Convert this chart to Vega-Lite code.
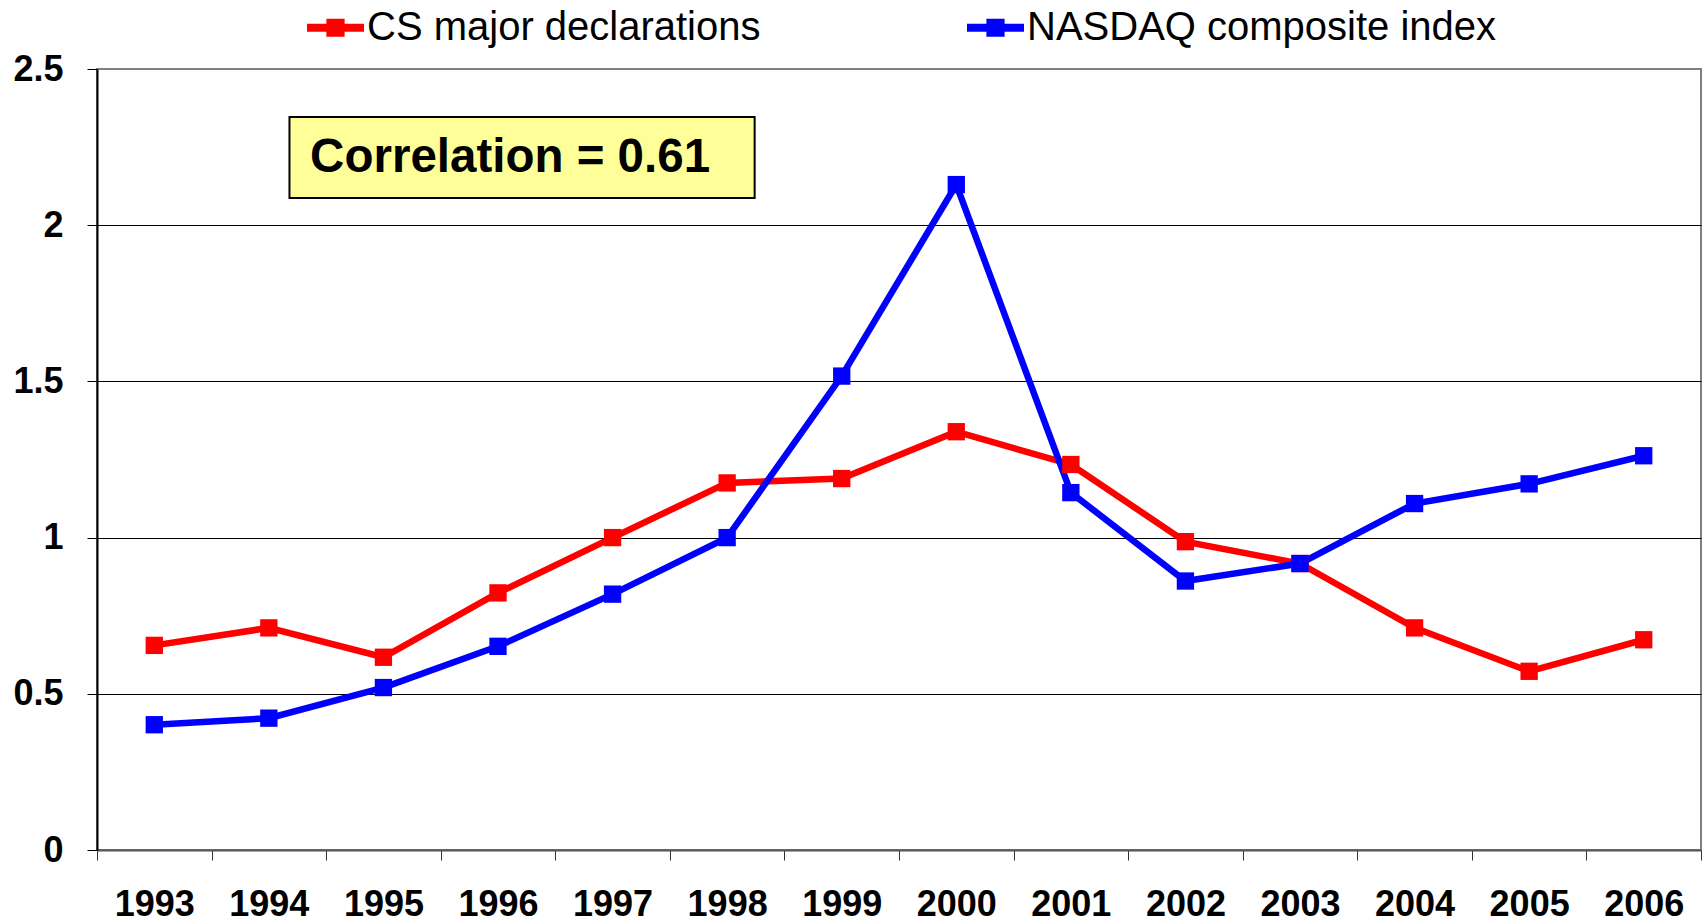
{
  "$schema": "https://vega.github.io/schema/vega-lite/v6.json",
  "width": 1604,
  "height": 781,
  "autosize": {"type": "none"},
  "padding": {"left": 97, "top": 69, "right": 5, "bottom": 70},
  "background": "white",
  "config": {
    "font": "Liberation Sans",
    "view": {"stroke": "#808080", "strokeWidth": 2}
  },
  "resolve": {"scale": {"x": "independent"}},
  "layer": [
    {
      "data": {
        "values": [
          {"year": "1993", "series": "CS major declarations", "value": 0.655},
          {"year": "1994", "series": "CS major declarations", "value": 0.711},
          {"year": "1995", "series": "CS major declarations", "value": 0.617},
          {"year": "1996", "series": "CS major declarations", "value": 0.823},
          {"year": "1997", "series": "CS major declarations", "value": 1.0},
          {"year": "1998", "series": "CS major declarations", "value": 1.175},
          {"year": "1999", "series": "CS major declarations", "value": 1.189},
          {"year": "2000", "series": "CS major declarations", "value": 1.339},
          {"year": "2001", "series": "CS major declarations", "value": 1.234},
          {"year": "2002", "series": "CS major declarations", "value": 0.987},
          {"year": "2003", "series": "CS major declarations", "value": 0.917},
          {"year": "2004", "series": "CS major declarations", "value": 0.711},
          {"year": "2005", "series": "CS major declarations", "value": 0.572},
          {"year": "2006", "series": "CS major declarations", "value": 0.673},
          {"year": "1993", "series": "NASDAQ composite index", "value": 0.401},
          {"year": "1994", "series": "NASDAQ composite index", "value": 0.422},
          {"year": "1995", "series": "NASDAQ composite index", "value": 0.52},
          {"year": "1996", "series": "NASDAQ composite index", "value": 0.652},
          {"year": "1997", "series": "NASDAQ composite index", "value": 0.819},
          {"year": "1998", "series": "NASDAQ composite index", "value": 1.0},
          {"year": "1999", "series": "NASDAQ composite index", "value": 1.517},
          {"year": "2000", "series": "NASDAQ composite index", "value": 2.13},
          {"year": "2001", "series": "NASDAQ composite index", "value": 1.144},
          {"year": "2002", "series": "NASDAQ composite index", "value": 0.861},
          {"year": "2003", "series": "NASDAQ composite index", "value": 0.917},
          {"year": "2004", "series": "NASDAQ composite index", "value": 1.109},
          {"year": "2005", "series": "NASDAQ composite index", "value": 1.172},
          {"year": "2006", "series": "NASDAQ composite index", "value": 1.262}
        ]
      },
      "encoding": {
        "x": {
          "field": "year",
          "type": "ordinal",
          "scale": {"type": "band", "paddingInner": 0, "paddingOuter": 0},
          "axis": {
            "title": null,
            "labelAngle": 0,
            "labelFontSize": 36,
            "labelFontWeight": "bold",
            "labelColor": "black",
            "labelPadding": 27,
            "tickSize": 10,
            "tickColor": "#333333",
            "tickBand": "extent",
            "domainColor": "#555555",
            "domainWidth": 2,
            "grid": false
          }
        },
        "y": {
          "field": "value",
          "type": "quantitative",
          "scale": {"domain": [0, 2.5], "nice": false},
          "axis": {
            "title": null,
            "values": [0, 0.5, 1, 1.5, 2, 2.5],
            "format": "~g",
            "labelFontSize": 36,
            "labelFontWeight": "bold",
            "labelColor": "black",
            "labelPadding": 24,
            "tickSize": 10,
            "tickColor": "black",
            "domainColor": "black",
            "domainWidth": 2,
            "grid": true,
            "gridColor": {"condition": {"test": "datum.value == 0 || datum.value == 2.5", "value": "transparent"}, "value": "black"},
            "gridWidth": 1,
            "gridOpacity": 1
          }
        },
        "color": {
          "field": "series",
          "type": "nominal",
          "scale": {"domain": ["CS major declarations", "NASDAQ composite index"], "range": ["#FF0000", "#0000FF"]},
          "legend": {
            "title": null,
            "orient": "none",
            "legendX": 210,
            "legendY": -70,
            "direction": "horizontal",
            "columns": 2,
            "columnPadding": 206,
            "padding": 0,
            "labelFontSize": 40,
            "labelColor": "black",
            "labelOffset": 3,
            "labelLimit": 800,
            "symbolSize": 3249,
            "symbolType": "M-1,-0.14L1,-0.14L1,0.14L-1,0.14Z M-0.32,-0.32L0.32,-0.32L0.32,0.32L-0.32,0.32Z",
            "encode": {
              "symbols": {
                "update": {
                  "fill": {"scale": "color", "field": "value"},
                  "stroke": {"value": "transparent"},
                  "strokeWidth": {"value": 0},
                  "opacity": {"value": 1}
                }
              }
            }
          }
        }
      },
      "layer": [
        {"mark": {"type": "line", "strokeWidth": 6.5}},
        {"mark": {"type": "point", "shape": "square", "filled": true, "size": 300, "opacity": 1}}
      ]
    },
    {
      "data": {"values": [{"label": "Correlation = 0.61"}]},
      "layer": [
        {
          "mark": {"type": "rect", "fill": "#FFFF99", "stroke": "black", "strokeWidth": 2},
          "encoding": {
            "x": {"datum": 1994.18, "type": "quantitative", "scale": {"domain": [1992.5, 2006.5], "nice": false, "zero": false}, "axis": null},
            "x2": {"datum": 1998.24},
            "y": {"datum": 2.087, "type": "quantitative"},
            "y2": {"datum": 2.346}
          }
        },
        {
          "mark": {"type": "text", "align": "left", "baseline": "middle", "fontSize": 47.5, "fontWeight": "bold", "font": "Liberation Sans", "color": "black"},
          "encoding": {
            "x": {"datum": 1994.36, "type": "quantitative"},
            "y": {"datum": 2.214, "type": "quantitative"},
            "text": {"field": "label"}
          }
        }
      ]
    }
  ]
}
